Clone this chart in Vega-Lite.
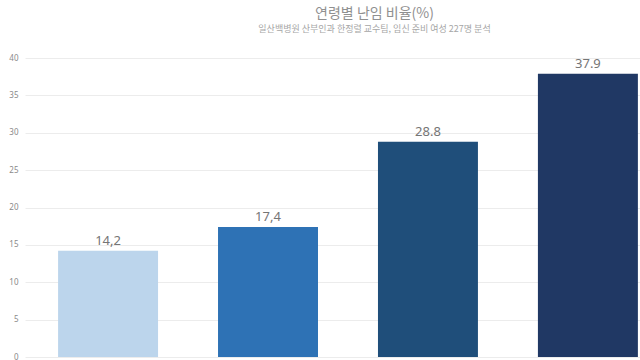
{
  "$schema": "https://vega.github.io/schema/vega-lite/v6.json",
  "autosize": "none",
  "width": 615,
  "height": 299,
  "padding": {"left": 25, "top": 58, "right": 0, "bottom": 3},
  "background": "white",
  "title": {
    "text": "연령별 난임 비율(%)",
    "subtitle": "일산백병원 산부인과 한정렬 교수팀, 임신 준비 여성 227명 분석",
    "anchor": "middle",
    "dx": 42,
    "offset": 20,
    "font": "Noto Sans CJK KR",
    "fontSize": 14,
    "fontWeight": "normal",
    "color": "#909090",
    "subtitleFont": "Noto Sans CJK KR",
    "subtitleFontSize": 9,
    "subtitleColor": "#a6a6a6",
    "subtitlePadding": 4
  },
  "data": {
    "values": [
      {"age": "A", "rate": 14.2, "label": "14,2", "color": "#bcd5ec"},
      {"age": "B", "rate": 17.4, "label": "17,4", "color": "#2e72b5"},
      {"age": "C", "rate": 28.8, "label": "28.8", "color": "#1f4e7a"},
      {"age": "D", "rate": 37.9, "label": "37.9", "color": "#203864"}
    ]
  },
  "encoding": {
    "x": {
      "field": "age",
      "type": "nominal",
      "sort": null,
      "scale": {"paddingInner": 0.375, "paddingOuter": 0.11, "align": 0.94},
      "axis": null
    },
    "y": {
      "field": "rate",
      "type": "quantitative",
      "scale": {"domain": [0, 40]},
      "axis": {
        "title": null,
        "values": [0, 5, 10, 15, 20, 25, 30, 35, 40],
        "domain": false,
        "ticks": false,
        "labelPadding": 7,
        "labelColor": "#8a8a8a",
        "labelFontSize": 8,
        "labelFont": "Noto Sans",
        "gridColor": "#ececec",
        "gridWidth": 1
      }
    }
  },
  "layer": [
    {
      "mark": {"type": "bar"},
      "encoding": {
        "color": {"field": "color", "type": "nominal", "scale": null}
      }
    },
    {
      "mark": {"type": "text", "dy": -10, "fontSize": 13, "font": "Noto Sans", "color": "#757575"},
      "encoding": {"text": {"field": "label"}}
    }
  ],
  "config": {"view": {"stroke": null}}
}
